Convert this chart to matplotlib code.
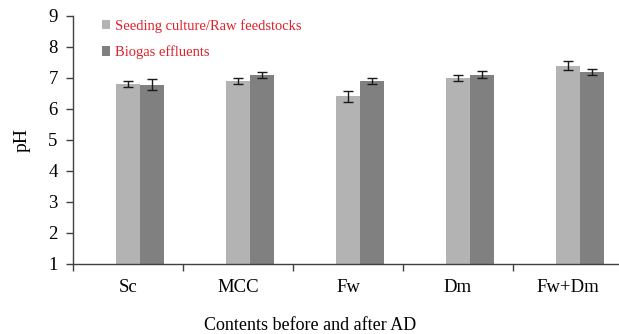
import numpy as np
import matplotlib.pyplot as plt

plt.rcParams['font.family'] = ['Liberation Serif', 'DejaVu Serif']

categories = ['Sc', 'MCC', 'Fw', 'Dm', 'Fw+Dm']
ph_raw = [6.8, 6.9, 6.4, 7.0, 7.4]
err_raw = [0.11, 0.09, 0.18, 0.09, 0.13]
ph_effluent = [6.78, 7.1, 6.9, 7.1, 7.2]
err_effluent = [0.17, 0.1, 0.11, 0.12, 0.1]

fig = plt.figure(figsize=(6.19, 3.34), dpi=100)
ax = fig.add_axes([73 / 619, 1 - 263.5 / 334, 550 / 619, 247.5 / 334])

x = np.arange(len(categories))
w = 0.218
ax.bar(x, ph_raw, width=w, color='#b3b3b3', label='Seeding culture/Raw feedstocks')
ax.bar(x + w, ph_effluent, width=w, color='#808080', label='Biogas effluents')
ax.errorbar(x, ph_raw, yerr=err_raw, fmt='none', ecolor='#1a1a1a', elinewidth=1, capsize=3.5, capthick=1)
ax.errorbar(x + w, ph_effluent, yerr=err_effluent, fmt='none', ecolor='#1a1a1a', elinewidth=1, capsize=3.5, capthick=1)

ax.set_xlim(-0.5, 4.5)
ax.set_ylim(1, 9)
ax.set_yticks(range(1, 10))
ax.set_xticks(x)
ax.set_xticklabels(categories, fontsize=13.5)
ax.set_xticks(np.arange(-0.5, 5.0, 1.0), minor=True)
ax.tick_params(axis='x', which='major', length=0, pad=11)
ax.tick_params(axis='x', which='minor', length=5, width=1, color='#404040')
ax.tick_params(axis='y', length=5, width=1, color='#404040', labelsize=13.5, pad=6)

for side in ['top', 'right']:
    ax.spines[side].set_visible(False)
for side in ['left', 'bottom']:
    ax.spines[side].set_color('#404040')
    ax.spines[side].set_linewidth(1)

ax.set_ylabel('pH', fontsize=14, labelpad=13)
ax.set_xlabel('Contents before and after AD', fontsize=13)
ax.xaxis.set_label_coords(0.431, -0.215)

leg = ax.legend(loc='upper left', bbox_to_anchor=(0.028, 1.04), frameon=False, fontsize=10.5,
                handlelength=0.6, handleheight=0.6, handletextpad=0.3, labelspacing=0.85)
for t in leg.get_texts():
    t.set_color('#e0202a')

fig.savefig('out.png', dpi=100)
